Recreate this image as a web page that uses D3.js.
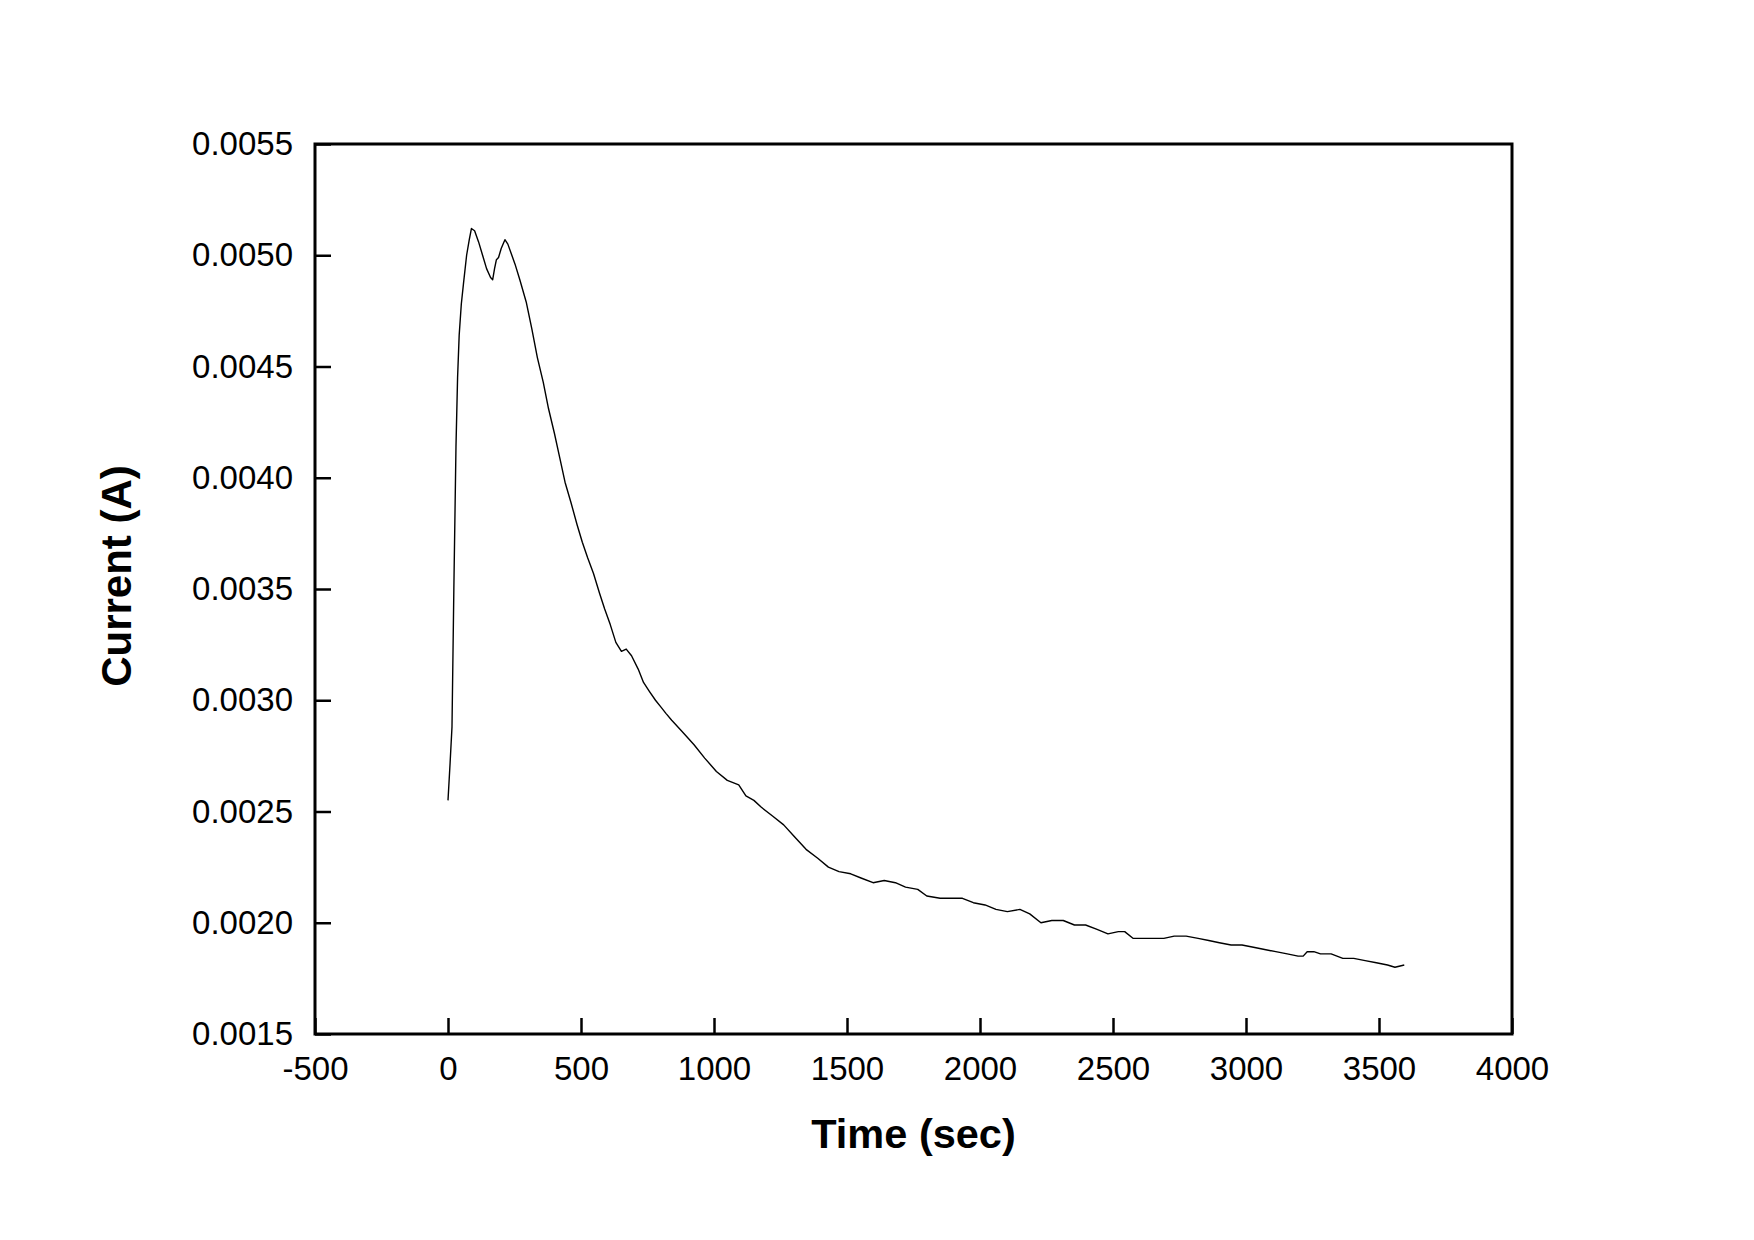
<!DOCTYPE html>
<html>
<head>
<meta charset="utf-8">
<script src="https://cdn.jsdelivr.net/npm/d3@7"></script>
<style>
html,body{margin:0;padding:0;background:#fff;}
svg{display:block;}
</style>
</head>
<body>
<svg id="chart" width="1754" height="1240"></svg>
<script>
// Data
const timeSec = [0, 8, 15, 22, 30, 36, 42, 50, 58, 70, 80, 88, 100, 115, 130, 145, 160, 168, 175, 182, 190, 200, 214, 225, 240, 252, 270, 294, 315, 336, 358, 378, 400, 420, 440, 462, 485, 505, 525, 547, 570, 589, 610, 631, 652, 670, 690, 715, 735, 757, 780, 800, 820, 841, 880, 925, 965, 1009, 1050, 1093, 1120, 1150, 1177, 1220, 1262, 1300, 1346, 1390, 1430, 1470, 1514, 1555, 1598, 1640, 1682, 1720, 1766, 1800, 1850, 1890, 1934, 1975, 2019, 2060, 2103, 2150, 2187, 2229, 2270, 2313, 2355, 2397, 2440, 2481, 2520, 2544, 2575, 2607, 2650, 2691, 2730, 2775, 2820, 2860, 2900, 2944, 2985, 3028, 3070, 3112, 3155, 3196, 3215, 3230, 3255, 3280, 3320, 3364, 3405, 3448, 3490, 3532, 3560, 3595];
const currentA = [0.00255, 0.00272, 0.00288, 0.00350, 0.00414, 0.00445, 0.00464, 0.00478, 0.00487, 0.00500, 0.00507, 0.00512, 0.00511, 0.00506, 0.00500, 0.00494, 0.00490, 0.00489, 0.00494, 0.00498, 0.00499, 0.00503, 0.00507, 0.00505, 0.00500, 0.00496, 0.00489, 0.00479, 0.00467, 0.00454, 0.00443, 0.00431, 0.00420, 0.00409, 0.00398, 0.00389, 0.00379, 0.00371, 0.00364, 0.00357, 0.00348, 0.00341, 0.00334, 0.00326, 0.00322, 0.00323, 0.00320, 0.00314, 0.00308, 0.00304, 0.00300, 0.00297, 0.00294, 0.00291, 0.00286, 0.00280, 0.00274, 0.00268, 0.00264, 0.00262, 0.00257, 0.00255, 0.00252, 0.00248, 0.00244, 0.00239, 0.00233, 0.00229, 0.00225, 0.00223, 0.00222, 0.00220, 0.00218, 0.00219, 0.00218, 0.00216, 0.00215, 0.00212, 0.00211, 0.00211, 0.00211, 0.00209, 0.00208, 0.00206, 0.00205, 0.00206, 0.00204, 0.00200, 0.00201, 0.00201, 0.00199, 0.00199, 0.00197, 0.00195, 0.00196, 0.00196, 0.00193, 0.00193, 0.00193, 0.00193, 0.00194, 0.00194, 0.00193, 0.00192, 0.00191, 0.00190, 0.00190, 0.00189, 0.00188, 0.00187, 0.00186, 0.00185, 0.00185, 0.00187, 0.00187, 0.00186, 0.00186, 0.00184, 0.00184, 0.00183, 0.00182, 0.00181, 0.00180, 0.00181];
const xTicks = [-500, 0, 500, 1000, 1500, 2000, 2500, 3000, 3500, 4000];
const yTicks = [0.0015, 0.0020, 0.0025, 0.0030, 0.0035, 0.0040, 0.0045, 0.0050, 0.0055];
const xTitle = "Time (sec)";
const yTitle = "Current (A)";

const svg = d3.select("#chart");
const mLeft = 315, mRight = 1512, mTop = 144, mBottom = 1034;
const x = d3.scaleLinear().domain([-500, 4000]).range([mLeft, mRight]);
const y = d3.scaleLinear().domain([0.0015, 0.0055]).range([mBottom, mTop]);
const font = "'Liberation Sans', Arial, sans-serif";

// Data line
const pts = timeSec.map((t, i) => [t, currentA[i]]);
svg.append("path")
  .datum(pts)
  .attr("fill", "none")
  .attr("stroke", "#000")
  .attr("stroke-width", 1.4)
  .attr("stroke-linejoin", "round")
  .attr("d", d3.line().x(d => x(d[0])).y(d => y(d[1])));

// Bottom axis (ticks inward)
const xAxis = d3.axisBottom(x).tickValues(xTicks).tickSize(-16).tickPadding(24).tickFormat(d => String(d));
const gx = svg.append("g").attr("transform", `translate(0,${mBottom})`).call(xAxis);
gx.select(".domain").remove();
gx.selectAll(".tick line").attr("stroke", "#000").attr("stroke-width", 2.5);
gx.selectAll(".tick text").attr("font-family", font).attr("font-size", 33).attr("fill", "#000")
  .attr("dy", "0.71em").attr("y", 23);

// Left axis (ticks inward)
const yAxis = d3.axisLeft(y).tickValues(yTicks).tickSize(-16).tickPadding(22).tickFormat(d => d.toFixed(4));
const gy = svg.append("g").attr("transform", `translate(${mLeft},0)`).call(yAxis);
gy.select(".domain").remove();
gy.selectAll(".tick line").attr("stroke", "#000").attr("stroke-width", 2.5);
gy.selectAll(".tick text").attr("font-family", font).attr("font-size", 33).attr("fill", "#000");

// Frame
svg.append("rect")
  .attr("x", mLeft).attr("y", mTop)
  .attr("width", mRight - mLeft).attr("height", mBottom - mTop)
  .attr("fill", "none").attr("stroke", "#000").attr("stroke-width", 3);

// Axis titles
svg.append("text")
  .attr("x", (mLeft + mRight) / 2).attr("y", 1148)
  .attr("text-anchor", "middle")
  .attr("font-family", font).attr("font-weight", "bold").attr("font-size", 41.5)
  .text(xTitle);

svg.append("text")
  .attr("transform", `translate(131,576) rotate(-90)`)
  .attr("text-anchor", "middle")
  .attr("font-family", font).attr("font-weight", "bold").attr("font-size", 42)
  .text(yTitle);
</script>
</body>
</html>
